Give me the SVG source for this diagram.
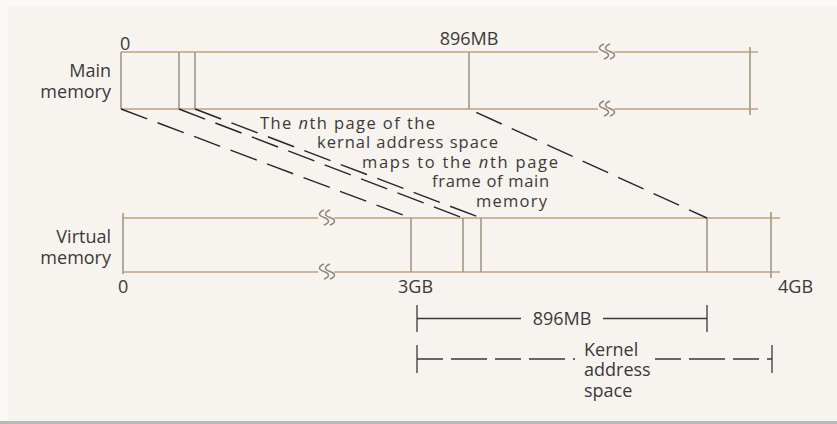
<svg xmlns="http://www.w3.org/2000/svg" width="837" height="424" viewBox="0 0 837 424">
<style>
.h{stroke:#cfb59b;stroke-width:2;fill:none}
.v{stroke:#a49686;stroke-width:1.6;fill:none}
.sq{stroke:#8f857c;stroke-width:1.5;fill:none}
.map{stroke:#262626;stroke-width:1.4;stroke-dasharray:28 11;fill:none}
.dim{stroke:#3a3a3a;stroke-width:1.3;fill:none}
.dimd{stroke:#3a3a3a;stroke-width:1.3;fill:none;stroke-dasharray:26 8 36 8}
text{font-family:"Open Sans","Liberation Sans",sans-serif;font-size:18px;fill:#3a3a3a}
.note{font-size:16.5px}
.r{text-anchor:end}
.m{text-anchor:middle}
</style>
<rect x="0" y="0" width="837" height="424" fill="#fbf9f6"/>
<rect x="8" y="6" width="829" height="415" fill="#f7f3ee"/>
<rect x="0" y="421" width="837" height="3" fill="#b9b9b9"/>

<g id="main-memory">
  <path class="h" d="M121,52 H598 M614,52 H758 M121,109 H598 M614,109 H758"/>
  <path class="v" d="M121,52 V109 M179,52 V109 M195,52 V109 M469,52 V109 M750,47 V115"/>
  <path class="sq" d="M604,44 q-9,4 0,7.5 q9,3.5 0,7.5 M610,44 q-9,4 0,7.5 q9,3.5 0,7.5 M604,101 q-9,4 0,7.5 q9,3.5 0,7.5 M610,101 q-9,4 0,7.5 q9,3.5 0,7.5"/>
  <text x="111" y="77" class="r">Main</text>
  <text x="111" y="98" class="r">memory</text>
  <text x="120" y="50">0</text>
  <text x="469" y="45" class="m">896MB</text>
</g>

<g id="virtual-memory">
  <path class="h" d="M123,218 H318 M334,218 H780 M123,272 H318 M334,272 H780"/>
  <path class="v" d="M123,213 V274 M411,218 V272 M463,218 V272 M481,218 V272 M707,218 V272 M771,212 V278"/>
  <path class="sq" d="M324,210 q-9,4 0,7.5 q9,3.5 0,7.5 M330,210 q-9,4 0,7.5 q9,3.5 0,7.5 M324,264 q-9,4 0,7.5 q9,3.5 0,7.5 M330,264 q-9,4 0,7.5 q9,3.5 0,7.5"/>
  <text x="111" y="243" class="r">Virtual</text>
  <text x="111" y="264" class="r">memory</text>
  <text x="118" y="293">0</text>
  <text x="398" y="293">3GB</text>
  <text x="778" y="293">4GB</text>
</g>

<g id="connectors">
  <path class="map" d="M121,109 L411,218"/>
  <path class="map" d="M179,109 L463,218"/>
  <path class="map" d="M195,109 L481,218"/>
  <path class="map" style="stroke-dashoffset:-8" d="M469,109 L707,218"/>
</g>

<g id="mapping-note">
  <text class="note" x="260" y="129" textLength="175">The <tspan font-style="italic">n</tspan>th page of the</text>
  <text class="note" x="317" y="148" textLength="181">kernal address space</text>
  <text class="note" x="362" y="168" textLength="196">maps to the <tspan font-style="italic">n</tspan>th page</text>
  <text class="note" x="432" y="187" textLength="117">frame of main</text>
  <text class="note" x="476" y="207" textLength="71">memory</text>
</g>

<g id="dim-896mb">
  <path class="dim" d="M417,305 V332 M707,305 V332 M417,318.5 H521 M603,318.5 H707"/>
  <text x="562" y="325" class="m">896MB</text>
</g>

<g id="dim-kernel">
  <path class="dim" d="M417,345 V373 M772,345 V373"/>
  <path class="dimd" d="M417,359 H575 M655,359 H772"/>
  <text x="584" y="356">Kernel</text>
  <text x="584" y="376">address</text>
  <text x="584" y="397">space</text>
</g>
</svg>
